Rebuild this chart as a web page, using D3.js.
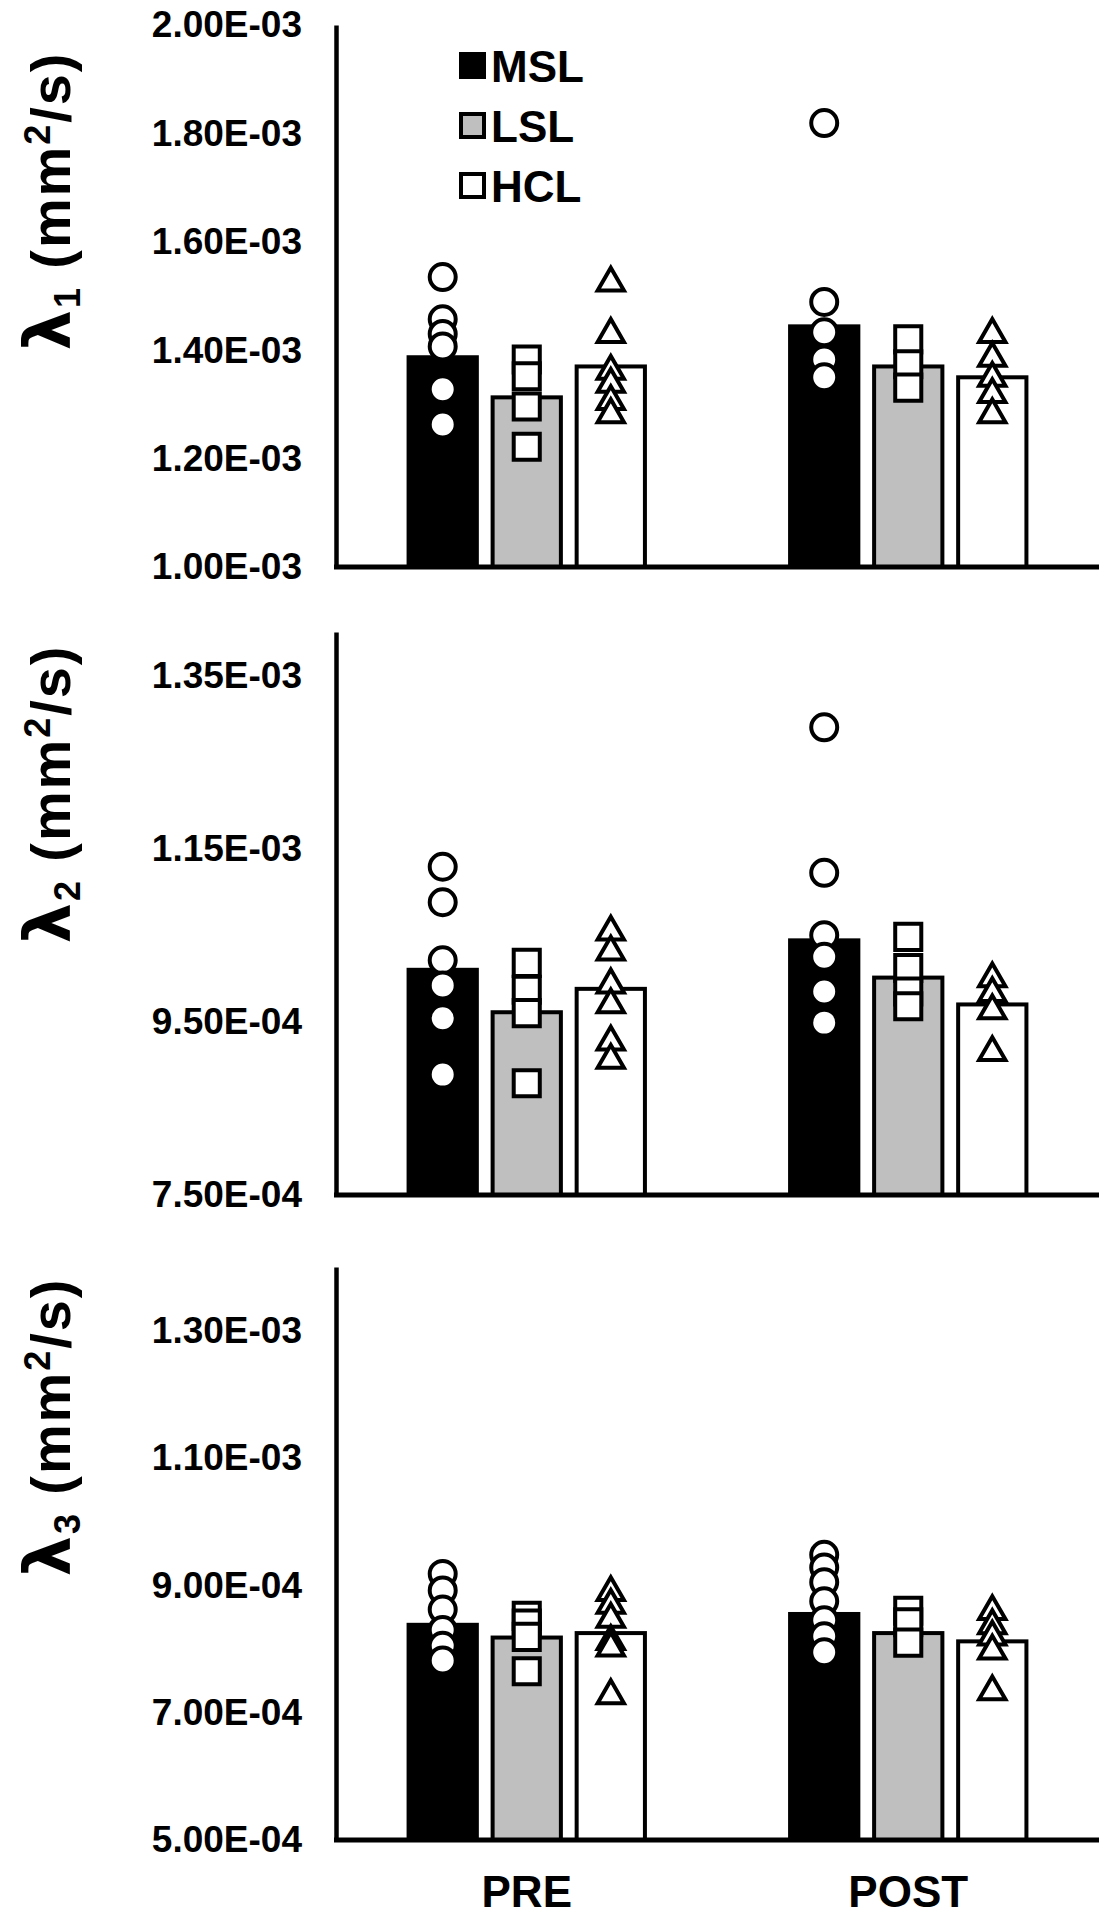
<!DOCTYPE html>
<html>
<head>
<meta charset="utf-8">
<script src="https://cdn.jsdelivr.net/npm/d3@7"></script>
<style>
  body { margin: 0; background: #fff; }
  svg { display: block; font-family: Arial, "Liberation Sans", sans-serif; font-weight: bold; }
</style>
</head>
<body>
<svg id="chart" width="1108" height="1920"></svg>
<script>
const groups = ['PRE', 'POST'];
const series = ['MSL', 'LSL', 'HCL'];

// lambda 1
const l1Ticks = [1.0e-3, 1.2e-3, 1.4e-3, 1.6e-3, 1.8e-3, 2.0e-3];
const l1Bars = [[1.387e-3, 1.313e-3, 1.370e-3], [1.444e-3, 1.370e-3, 1.350e-3]];
const l1Pre = [
  [1.535e-3, 1.457e-3, 1.430e-3, 1.407e-3, 1.328e-3, 1.263e-3],
  [1.383e-3, 1.352e-3, 1.296e-3, 1.222e-3],
  [1.528e-3, 1.433e-3, 1.365e-3, 1.341e-3, 1.309e-3, 1.285e-3]
];
const l1Post = [
  [1.819e-3, 1.489e-3, 1.433e-3, 1.383e-3, 1.350e-3],
  [1.420e-3, 1.374e-3, 1.331e-3],
  [1.433e-3, 1.389e-3, 1.352e-3, 1.322e-3, 1.285e-3]
];

// lambda 2
const l2Ticks = [7.5e-4, 9.5e-4, 1.15e-3, 1.35e-3];
const l2Bars = [[1.010e-3, 9.61e-4, 9.88e-4], [1.044e-3, 1.001e-3, 9.70e-4]];
const l2Pre = [
  [1.129e-3, 1.088e-3, 1.021e-3, 9.92e-4, 9.54e-4, 8.89e-4],
  [1.018e-3, 9.87e-4, 9.60e-4, 8.79e-4],
  [1.056e-3, 1.033e-3, 9.95e-4, 9.72e-4, 9.29e-4, 9.08e-4]
];
const l2Post = [
  [1.290e-3, 1.122e-3, 1.050e-3, 1.025e-3, 9.85e-4, 9.49e-4],
  [1.048e-3, 1.012e-3, 9.85e-4, 9.68e-4],
  [1.002e-3, 9.85e-4, 9.65e-4, 9.17e-4]
];

// lambda 3
const l3Ticks = [5.0e-4, 7.0e-4, 9.0e-4, 1.1e-3, 1.3e-3];
const l3Bars = [[8.38e-4, 8.18e-4, 8.25e-4], [8.55e-4, 8.25e-4, 8.12e-4]];
const l3Pre = [
  [9.18e-4, 8.92e-4, 8.62e-4, 8.30e-4, 8.05e-4, 7.82e-4],
  [8.52e-4, 8.40e-4, 8.19e-4, 7.65e-4],
  [8.92e-4, 8.72e-4, 8.50e-4, 8.15e-4, 8.05e-4, 7.30e-4]
];
const l3Post = [
  [9.48e-4, 9.28e-4, 9.05e-4, 8.75e-4, 8.45e-4, 8.20e-4, 7.95e-4],
  [8.60e-4, 8.42e-4, 8.10e-4],
  [8.62e-4, 8.40e-4, 8.22e-4, 8.00e-4, 7.36e-4]
];

const fills = ['#000', '#bfbfbf', '#fff'];
const shapes = [d3.symbolCircle, d3.symbolSquare, d3.symbolTriangle];
const shapeSize = [530, 680, 300];

const panels = [
  { sub: '1', ticks: l1Ticks, bars: l1Bars, pts: [l1Pre, l1Post], domain: [1.0e-3, 2.0e-3], range: [567, 25], titleY: 202 },
  { sub: '2', ticks: l2Ticks, bars: l2Bars, pts: [l2Pre, l2Post], domain: [7.5e-4, 1.4e-3], range: [1195, 632], titleY: 795 },
  { sub: '3', ticks: l3Ticks, bars: l3Bars, pts: [l3Pre, l3Post], domain: [5.0e-4, 1.4e-3], range: [1840, 1267], titleY: 1428 }
];

const fmt = v => {
  const [m, e] = v.toExponential(2).split('e');
  const n = +e;
  return m + 'E' + (n < 0 ? '-' : '+') + String(Math.abs(n)).padStart(2, '0');
};

const svg = d3.select('#chart');
const axisX = 336, axisEnd = 1099;

const x0 = d3.scaleBand().domain(groups).range([axisX, axisEnd]).paddingInner(0.37).paddingOuter(0.185);
const x1 = d3.scaleBand().domain(series).range([0, x0.bandwidth()]).paddingInner(0.14);

panels.forEach(p => {
  const y = d3.scaleLinear().domain(p.domain).range(p.range);
  const g = svg.append('g');

  // bars
  groups.forEach((grp, gi) => {
    series.forEach((s, si) => {
      g.append('rect')
        .attr('x', x0(grp) + x1(s) + 2)
        .attr('y', y(p.bars[gi][si]))
        .attr('width', x1.bandwidth() - 4)
        .attr('height', y(p.domain[0]) - y(p.bars[gi][si]))
        .attr('fill', fills[si])
        .attr('stroke', '#000')
        .attr('stroke-width', 4);
    });
  });

  // individual points
  groups.forEach((grp, gi) => {
    series.forEach((s, si) => {
      const cx = x0(grp) + x1(s) + x1.bandwidth() / 2;
      p.pts[gi][si].forEach(v => {
        g.append('path')
          .attr('d', d3.symbol(shapes[si], shapeSize[si])())
          .attr('transform', `translate(${cx},${y(v) + (si === 2 ? 2 : 0)})`)
          .attr('fill', '#fff')
          .attr('stroke', '#000')
          .attr('stroke-width', 4);
      });
    });
  });

  // axes
  const yAxis = d3.axisLeft(y).tickValues(p.ticks).tickSize(0).tickPadding(34).tickFormat(fmt);
  const ya = g.append('g').attr('transform', `translate(${axisX},0)`).call(yAxis);
  ya.select('.domain').attr('stroke-width', 4.5);
  ya.selectAll('text').attr('font-size', 37).attr('font-family', 'Arial, "Liberation Sans", sans-serif').attr('font-weight', 'bold').attr('fill', '#000');

  g.append('line')
    .attr('x1', axisX - 2).attr('x2', axisEnd)
    .attr('y1', y(p.domain[0])).attr('y2', y(p.domain[0]))
    .attr('stroke', '#000').attr('stroke-width', 5);

  // y title
  const t = svg.append('text')
    .attr('transform', `translate(70,${p.titleY}) rotate(-90)`)
    .attr('text-anchor', 'middle')
    .attr('font-size', 56)
    .attr('textLength', 297)
    .attr('lengthAdjust', 'spacing');
  t.append('tspan').attr('font-family', '"DejaVu Sans", sans-serif').attr('font-size', 64).text('λ');
  t.append('tspan').attr('font-size', 36).attr('dy', 10).text(p.sub);
  t.append('tspan').attr('dy', -10).text(' (mm');
  t.append('tspan').attr('font-size', 36).attr('dy', -20).text('2');
  t.append('tspan').attr('dy', 20).text('/s)');
});

// x labels
svg.append('g')
  .attr('transform', 'translate(0,1840)')
  .call(d3.axisBottom(x0).tickSize(0).tickPadding(36))
  .call(a => a.select('.domain').remove())
  .selectAll('text')
  .attr('font-size', 44).attr('font-family', 'Arial, "Liberation Sans", sans-serif').attr('font-weight', 'bold').attr('fill', '#000');

// legend
const legend = svg.append('g').attr('transform', 'translate(459,66)');
series.forEach((s, i) => {
  legend.append('rect')
    .attr('x', 2).attr('y', i * 60 - 12)
    .attr('width', 23).attr('height', 23)
    .attr('fill', fills[i]).attr('stroke', '#000').attr('stroke-width', 4);
  legend.append('text')
    .attr('x', 32).attr('y', i * 60 + 16)
    .attr('font-size', 44)
    .text(s);
});
</script>
</body>
</html>
